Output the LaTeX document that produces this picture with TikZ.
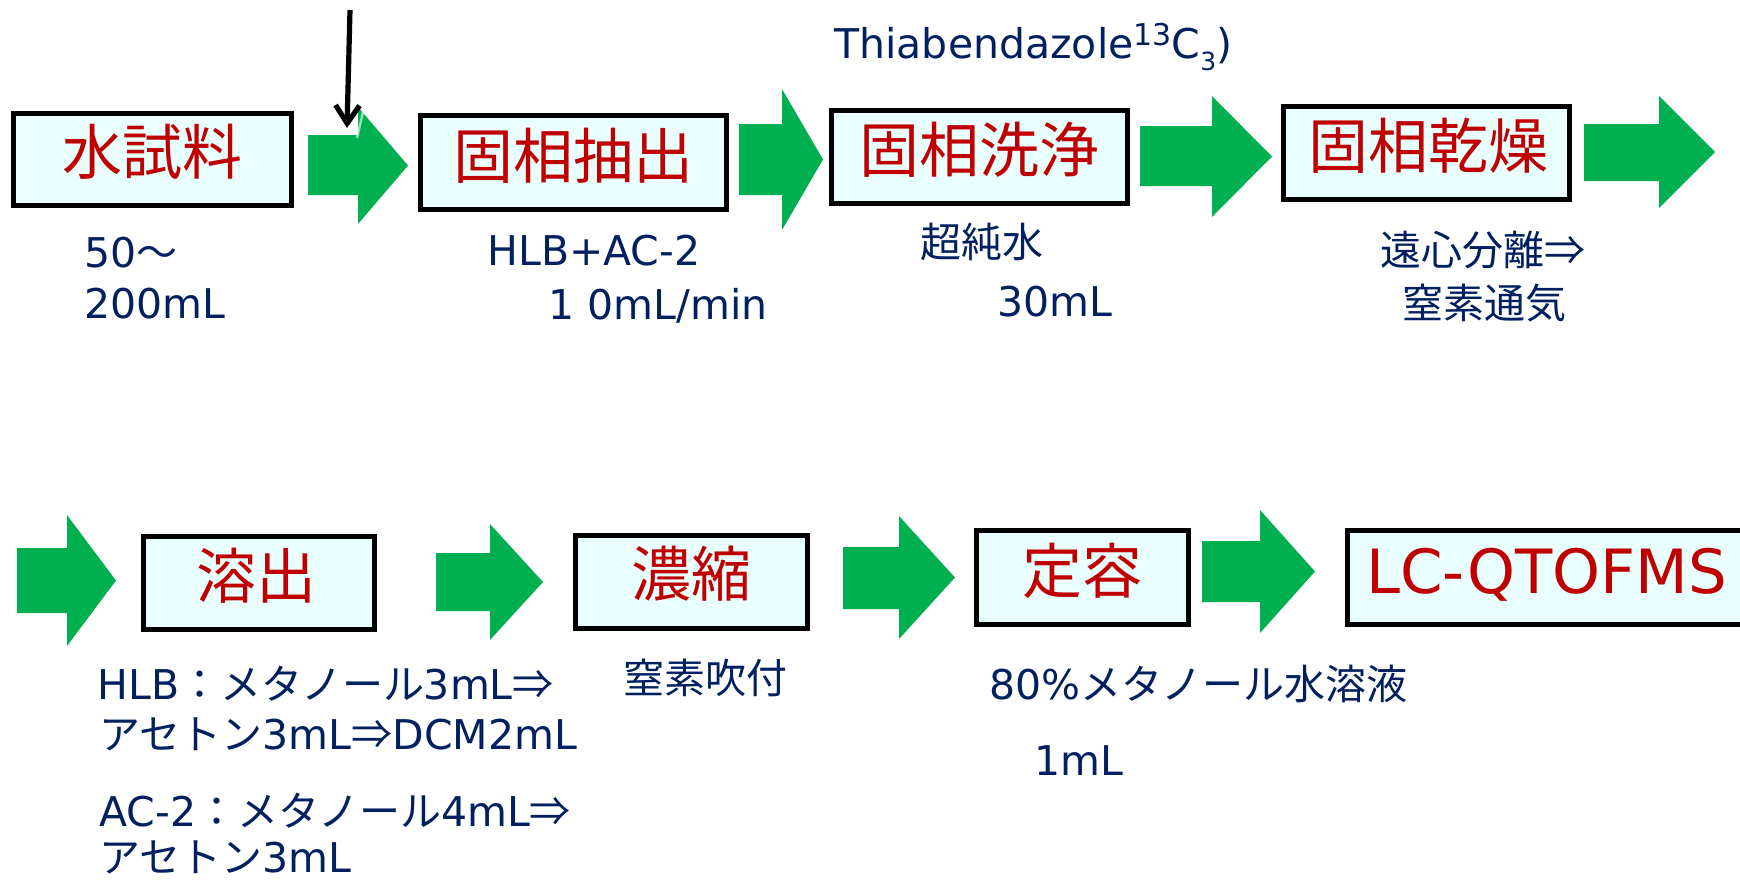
\documentclass[tikz,border=0pt]{standalone}
\usepackage{fontspec}
\setmainfont{DejaVu Sans}
\newfontfamily\jp{Noto Sans CJK JP}
\usetikzlibrary{arrows.meta}
\definecolor{boxfill}{HTML}{E9FFFF}
\definecolor{stepred}{HTML}{C00000}
\definecolor{navy}{HTML}{002060}
\definecolor{arrowgreen}{HTML}{00B050}
% green block arrow: x0, x1 (head start), x2 (tip), body top, body bottom, head top, head bottom
\newcommand\flowarrow[7]{%
  \fill[flow] (#1,#4) -- (#2,#4) -- (#2,#6) -- (#3,{(#6+#7)/2}) -- (#2,#7) -- (#2,#5) -- (#1,#5) -- cycle;}
\begin{document}
\begin{tikzpicture}[x=0.5pt,y=-0.5pt,
  stepbox/.style={draw=black, line width=2.5pt, fill=boxfill, inner sep=0pt},
  steplabel/.style={text=stepred, font=\jp\fontsize{30}{30}\selectfont, anchor=base, inner sep=0pt},
  note/.style={text=navy, font=\fontsize{20.5}{24}\selectfont, anchor=base west, inner sep=0pt},
  flow/.style={fill=arrowgreen},
]
\useasboundingbox (0,0) rectangle (1740,880);
\clip (0,0) rectangle (1740,880);

% boxes
\node[stepbox, minimum width=139pt, minimum height=46pt] (b1) at (152.5,159.5) {};
\node[stepbox, minimum width=153pt, minimum height=47pt] (b2) at (573.5,162.5) {};
\node[stepbox, minimum width=148pt, minimum height=46.5pt] (b3) at (979.5,157) {};
\node[stepbox, minimum width=143pt, minimum height=46.5pt] (b4) at (1426.5,153) {};
\node[stepbox, minimum width=115.5pt, minimum height=46.5pt] (b5) at (259,583) {};
\node[stepbox, minimum width=116pt, minimum height=46.5pt] (b6) at (691.5,582) {};
\node[stepbox, minimum width=106pt, minimum height=47pt] (b7) at (1082.5,577.5) {};
\node[stepbox, minimum width=210pt, minimum height=47pt] (b8) at (1557.5,577.5) {};

% box labels
\node[steplabel] (t1) at (152,174) {水試料};
\node[steplabel] (t2) at (573,178) {固相抽出};
\node[steplabel] (t3) at (979.5,172) {固相洗浄};
\node[steplabel] (t4) at (1428,168) {固相乾燥};
\node[steplabel] (t5) at (256,598) {溶出};
\node[steplabel] (t6) at (691,596) {濃縮};
\node[steplabel] (t7) at (1082.5,593) {定容};
\node[steplabel, font=\fontsize{30.5}{30}\selectfont, anchor=base west] (t8) at (1366,593) {LC-QTOFMS};

% green arrows
\flowarrow{308}{358}{408}{135}{195}{107}{224}
\flowarrow{739}{782}{823}{124}{195}{89}{230}
\flowarrow{1140}{1212}{1272}{126}{186}{96}{217}
\flowarrow{1584}{1659}{1715}{124}{181}{96}{208}
\flowarrow{17}{67}{116}{548}{613}{515}{646}
\flowarrow{436}{490}{543}{553}{611}{524}{640}
\flowarrow{843}{899}{955}{547}{609}{516}{639}
\flowarrow{1202}{1260}{1315}{541}{602}{510}{633}
\draw[white, opacity=0.6, line width=1.2pt] (363,112) -- (357,138);

% black input arrow
\coordinate (spikeTop) at (350,10);
\coordinate (spikeEnd) at (347,128);
\draw[line width=2.6pt, -{Straight Barb[length=9pt,width=12pt]}] (spikeTop) -- (spikeEnd);

% notes
\node[note] (n1) at (84,267) {50{\jp ～}};
\node[note] (n2) at (84,318) {200mL};
\node[note] (n3) at (487,265) {HLB+AC-2};
\node[note] (n4) at (548,319) {1 0mL/min};
\node[note] (n5) at (834,58) {Thiabendazole{\fontsize{15}{15}\selectfont\raisebox{6.5pt}{13}}C{\fontsize{12.5}{12.5}\selectfont\raisebox{-6pt}{3}})};
\node[note] (n6) at (920,257) {\jp 超純水};
\node[note] (n7) at (997,316) {30mL};
\node[note] (n8) at (1380,265) {\jp 遠心分離⇒};
\node[note] (n9) at (1402,318) {\jp 窒素通気};
\node[note] (n10) at (97,699) {HLB{\jp ：メタノール}3mL{\jp ⇒}};
\node[note] (n11) at (99,749) {{\jp アセトン}3mL{\jp ⇒}DCM2mL};
\node[note] (n12) at (99,826) {AC-2{\jp ：メタノール}4mL{\jp ⇒}};
\node[note] (n13) at (99,872) {{\jp アセトン}3mL};
\node[note] (n14) at (623,693) {\jp 窒素吹付};
\node[note] (n15) at (989,699) {80\%{\jp メタノール水溶液}};
\node[note] (n16) at (1034,775) {1mL};
\end{tikzpicture}
\end{document}
